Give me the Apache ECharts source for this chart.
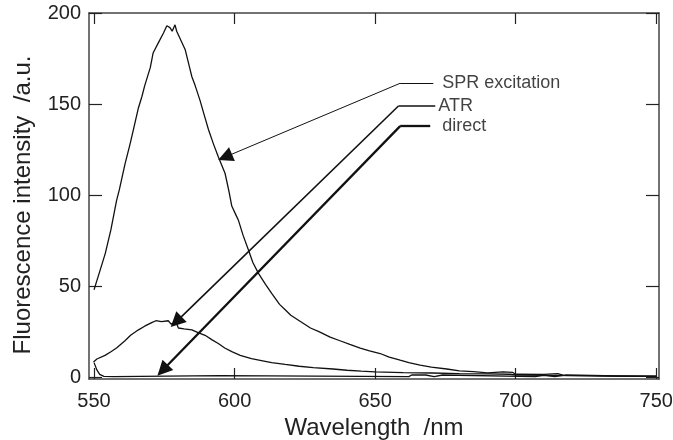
<!DOCTYPE html>
<html>
<head>
<meta charset="utf-8">
<script src="https://cdn.jsdelivr.net/npm/echarts@6/dist/echarts.min.js"></script>
<style>
  html, body { margin: 0; padding: 0; background: #fff; }
  #main { width: 673px; height: 440px; }
</style>
</head>
<body>
<div id="main"></div>
<script>
// 波长刻度
var xTicks = [550, 600, 650, 700, 750];
var yTicks = [0, 50, 100, 150, 200];

// SPR excitation
var sprWl  = [550, 551, 552, 554, 556, 558, 559, 561, 562.8, 564, 565.8, 567, 568, 570, 571, 573, 574.7, 575.9, 577, 577.8, 578.8, 579.4, 580, 582.4, 584, 584.8, 586, 587.7, 589, 590.7, 592.5, 594.2, 596.6, 598, 599, 600.5, 601.4, 603, 604.9, 606.5, 608.5, 611, 613.2, 616, 618, 620, 623, 627, 630, 634, 637.5, 641, 644.7, 648, 651.8, 655, 658.9, 662, 666, 670, 675.5, 680, 685, 690, 695.5, 699, 700, 710, 715, 717, 725, 735, 750];
var sprVal = [48, 53, 58, 68, 81, 97, 103, 117, 128, 136, 148, 154, 160, 170, 178, 184, 189, 193, 192, 190, 193.5, 190, 190, 180, 170, 165, 160, 152, 145, 136, 128, 121, 112, 102, 94, 89, 86, 78, 70, 63, 57, 51, 46, 40, 37, 34, 31, 27, 25, 22, 20, 18, 16, 14.5, 13, 11, 9.3, 8, 6.6, 5.5, 4.5, 3.5, 3, 2.4, 2.9, 2.6, 1.6, 1.5, 2, 1, 0.8, 0.6, 0.5];

// ATR
var atrWl  = [549.8, 551, 553.9, 556, 558, 561, 563, 565.8, 568, 570.5, 572, 574, 576.4, 577.5, 579, 580, 582, 584.8, 587, 589.5, 592, 594.2, 596.5, 599, 602, 606, 610, 613.2, 618, 623, 628, 635, 640, 645, 650, 660, 670, 680, 690, 698, 700, 710, 720, 735, 750];
var atrVal = [8.4, 10, 12, 14, 16, 20, 23, 26, 28, 30, 31, 30.5, 31, 29, 31, 27, 26.5, 26, 24.5, 23, 20.5, 18.5, 16, 14, 12, 10.2, 9, 8, 7, 6, 5.3, 4.5, 3.8, 3.3, 2.9, 2.5, 2.3, 2.0, 1.8, 1.6, 1.2, 1.0, 0.8, 0.6, 0.5];

// direct
var directWl  = [550, 551, 552, 553.5, 557, 557.5, 595, 595.5, 662, 663, 668, 668.5, 671, 671.5, 674, 674.5, 707, 707.5, 710, 710.5, 714, 714.5, 718, 718.5, 750];
var directVal = [8, 4, 1.5, 0.4, 0.3, 0.8, 0.8, 0.3, 0.3, 1.2, 1.2, 0.3, 0.3, 1.2, 1.2, 0.3, 0.3, 1, 1, 0.3, 0.3, 1.3, 1.3, 0.3, 0.3];

// 注释: 标签文字, 引线起点, 箭头终点 (数据坐标)
var annoNames  = ['SPR excitation', 'ATR', 'direct'];
var annoText   = [[673.9, 161.4], [672.5, 148.9], [673.9, 137.9]];
var annoStart  = [[670.7, 161.4], [671.4, 148.9], [669.6, 137.9]];
var annoBend   = [[658.9, 161.4], [658.3, 148.9], [658.9, 137.9]];
var annoTip    = [[596.6, 120.9], [579.2, 30.4], [574.4, 3.8]];
var annoWidth  = [1, 1.6, 2.3];

function zip(a, b) {
    return a.map(function (v, i) { return [v, b[i]]; });
}

var myChart = echarts.init(document.getElementById('main'));

var axisLineStyle = { color: '#444', width: 1.5 };
var fontFam = '"Liberation Sans", Arial, sans-serif';

function xAxisOpt(pos, showLabel) {
    return {
        type: 'value', position: pos, min: 548.2, max: 751,
        axisLine: { show: true, onZero: false, lineStyle: axisLineStyle },
        axisTick: { show: true, inside: true, length: 11, customValues: xTicks, lineStyle: { color: '#222', width: 1.2 } },
        axisLabel: { show: showLabel, customValues: xTicks, margin: 12, fontSize: 20, color: '#222', fontFamily: fontFam },
        splitLine: { show: false }
    };
}
function yAxisOpt(pos, showLabel) {
    return {
        type: 'value', position: pos, min: -1, max: 200,
        axisLine: { show: true, onZero: false, lineStyle: axisLineStyle },
        axisTick: { show: true, inside: true, length: 13, customValues: yTicks, lineStyle: { color: '#222', width: 1.2 } },
        axisLabel: { show: showLabel, customValues: yTicks, margin: 8, fontSize: 20, color: '#222', fontFamily: fontFam },
        splitLine: { show: false }
    };
}

var curveStyle = { color: '#111', width: 1.3 };

var leaderData = [], arrowData = [], labelData = [];
for (var i = 0; i < annoNames.length; i++) {
    leaderData.push({ coords: [annoStart[i], annoBend[i]], lineStyle: { width: annoWidth[i] } });
    arrowData.push({ coords: [annoBend[i], annoTip[i]], lineStyle: { width: annoWidth[i] } });
    labelData.push({ value: annoText[i], name: annoNames[i] });
}

var option = {
    animation: false,
    grid: { left: 89, right: 14, top: 13, bottom: 61, containLabel: false, outerBoundsMode: 'none' },
    xAxis: [
        Object.assign(xAxisOpt('bottom', true), {
            name: 'Wavelength  /nm', nameLocation: 'middle', nameGap: 35,
            nameTextStyle: { fontSize: 24, color: '#222', fontFamily: fontFam }
        }),
        xAxisOpt('top', false)
    ],
    yAxis: [yAxisOpt('left', true), yAxisOpt('right', false)],
    graphic: [{
        type: 'text', x: 23, y: 205, rotation: Math.PI / 2,
        style: {
            text: 'Fluorescence intensity  /a.u.', fontSize: 24, fontFamily: fontFam,
            fill: '#222', align: 'center', verticalAlign: 'middle'
        }
    }],
    series: [
        { name: 'SPR excitation', type: 'line', data: zip(sprWl, sprVal), showSymbol: false, lineStyle: curveStyle },
        { name: 'ATR', type: 'line', data: zip(atrWl, atrVal), showSymbol: false, lineStyle: curveStyle },
        { name: 'direct', type: 'line', data: zip(directWl, directVal), showSymbol: false, lineStyle: curveStyle },
        {
            type: 'lines', coordinateSystem: 'cartesian2d', symbol: 'none',
            lineStyle: { color: '#111', opacity: 1, curveness: 0 },
            data: leaderData
        },
        {
            type: 'lines', coordinateSystem: 'cartesian2d', symbol: ['none', 'triangle'], symbolSize: [11, 15],
            lineStyle: { color: '#111', opacity: 1, curveness: 0 },
            data: arrowData
        },
        {
            type: 'scatter', symbolSize: 0, data: labelData,
            label: {
                show: true, position: 'right', distance: 0, formatter: '{b}',
                fontSize: 18, color: '#111', fontFamily: fontFam
            }
        }
    ]
};

myChart.setOption(option);
</script>
</body>
</html>
